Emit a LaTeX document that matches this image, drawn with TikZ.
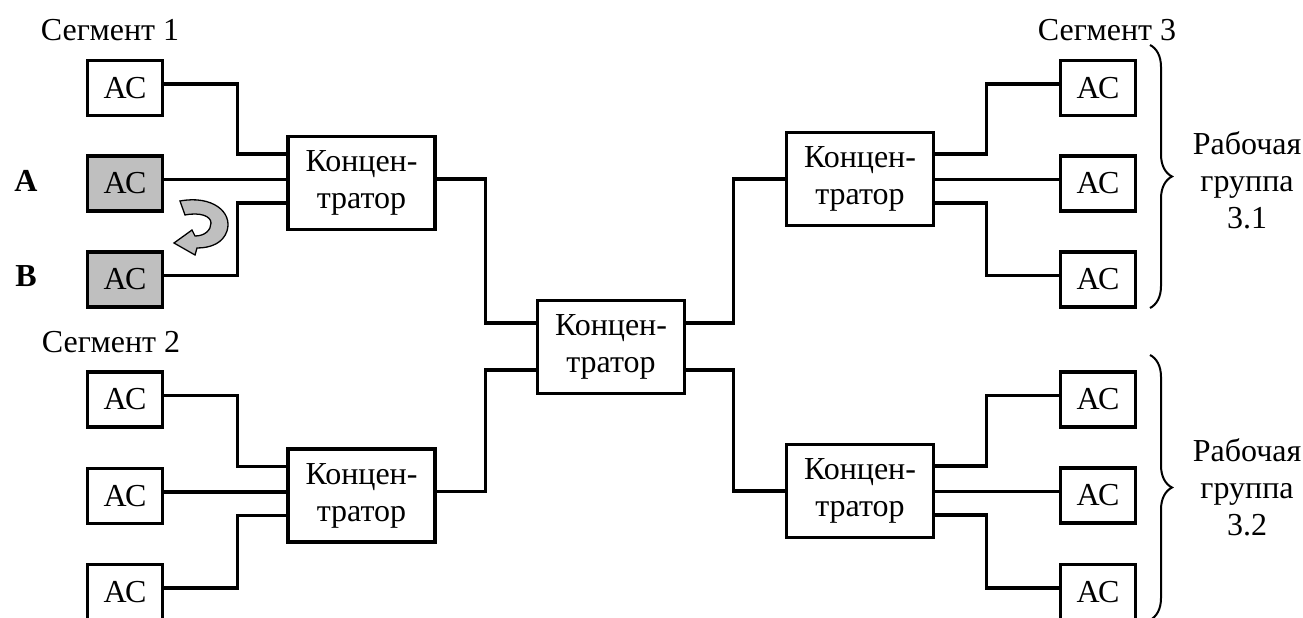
\documentclass[tikz,border=0pt]{standalone}
\usepackage{fontspec}
\setmainfont{Liberation Serif}
\usetikzlibrary{decorations.pathreplacing}
\begin{document}
\begin{tikzpicture}[x=1pt,y=-1pt,
  font=\fontsize{32}{37}\selectfont,
  ws/.style={draw,line width=3.4pt,minimum width=75pt,minimum height=55pt,inner sep=0pt},
  wsmark/.style={ws,fill=black!25},
  hub/.style={draw,line width=3.4pt,minimum width=147pt,minimum height=93pt,inner sep=0pt,align=center},
  wire/.style={line width=3.4pt},
  lbl/.style={inner sep=0pt},
  grp/.style={inner sep=0pt,align=center},
  brc/.style={line width=2pt,decorate,decoration={brace,amplitude=22pt}},
]
\useasboundingbox (0,0) rectangle (1303,618);

% segment 1
\node[lbl] (seg1) at (110,30) {Сегмент 1};
\node[ws]     (s1a) at (125,88)    {АС};
\node[wsmark] (s1b) at (125,183.5) {АС};
\node[wsmark] (s1c) at (125,279.5) {АС};
\node[lbl,font=\fontsize{32}{37}\selectfont\bfseries] (la) at (26,181) {A};
\node[lbl,font=\fontsize{32}{37}\selectfont\bfseries] (lb) at (26,276) {B};
\node[hub] (h1) at (361.5,183) {Концен-\\тратор};

% segment 2
\node[lbl] (seg2) at (111,342) {Сегмент 2};
\node[ws] (s2a) at (125,399.5) {АС};
\node[ws] (s2b) at (125,496)   {АС};
\node[ws] (s2c) at (125,592)   {АС};
\node[hub] (h2) at (361.5,495.5) {Концен-\\тратор};

% central hub
\node[hub] (hc) at (611,347) {Концен-\\тратор};

% segment 3
\node[lbl] (seg3) at (1107,30) {Сегмент 3};
\node[hub] (h3) at (860,179) {Концен-\\тратор};
\node[hub] (h4) at (860,491) {Концен-\\тратор};
\node[ws] (r1a) at (1098,88)    {АС};
\node[ws] (r1b) at (1098,183.5) {АС};
\node[ws] (r1c) at (1098,279.5) {АС};
\node[ws] (r2a) at (1098,399.5) {АС};
\node[ws] (r2b) at (1098,495.5) {АС};
\node[ws] (r2c) at (1098,592)   {АС};

% workgroups
\coordinate (b1t) at (1150,45);
\coordinate (b1b) at (1150,308);
\coordinate (b2t) at (1150,355);
\coordinate (b2b) at (1150,620);
\draw[brc] (b1t) -- (b1b);
\draw[brc] (b2t) -- (b2b);
\node[grp] (g1) at (1247,180) {Рабочая\\группа\\3.1};
\node[grp] (g2) at (1247,487) {Рабочая\\группа\\3.2};

% wiring, left side
\draw[wire] ([yshift=4pt]s1a.east) -- ++(73,0) |- ([yshift=29pt]h1.west);
\draw[wire] ([yshift=4pt]s1b.east) -- ([yshift=4pt]s1b.east -| h1.west);
\draw[wire] ([yshift=4pt]s1c.east) -- ++(73,0) |- ([yshift=-20pt]h1.west);
\draw[wire] ([yshift=4pt]s2a.east) -- ++(73,0) |- ([yshift=29pt]h2.west);
\draw[wire] ([yshift=4pt]s2b.east) -- ([yshift=4pt]s2b.east -| h2.west);
\draw[wire] ([yshift=4pt]s2c.east) -- ++(73,0) |- ([yshift=-20pt]h2.west);

% wiring, backbone
\draw[wire] ([yshift=4pt]h1.east) -- ++(49,0) |- ([yshift=24pt]hc.west);
\draw[wire] ([yshift=4pt]h2.east) -- ++(49,0) |- ([yshift=-23pt]hc.west);
\draw[wire] ([yshift=24pt]hc.east) -- ++(47,0) |- (h3.west);
\draw[wire] ([yshift=-23pt]hc.east) -- ++(47,0) |- (h4.west);

% wiring, right side
\draw[wire] ([yshift=25pt]h3.east) -- ++(51,0) |- ([yshift=4pt]r1a.west);
\draw[wire] ([yshift=4pt]r1b.west) -- ([yshift=4pt]r1b.west -| h3.east);
\draw[wire] ([yshift=-24pt]h3.east) -- ++(51,0) |- ([yshift=4pt]r1c.west);
\draw[wire] ([yshift=25pt]h4.east) -- ++(51,0) |- ([yshift=4pt]r2a.west);
\draw[wire] ([yshift=4pt]r2b.west) -- ([yshift=4pt]r2b.west -| h4.east);
\draw[wire] ([yshift=-24pt]h4.east) -- ++(51,0) |- ([yshift=4pt]r2c.west);

% swap arrow between A and B
\draw[line width=1.3pt,fill=black!25] (180,201)
  .. controls (212,195) and (233,212) .. (227,231)
  .. controls (223,243) and (211,248) .. (197,248)
  -- (195,255) -- (174,243) -- (192,230) -- (195,236)
  .. controls (205,236) and (211,230) .. (211,223)
  .. controls (211,216) and (200,212) .. (185,215) -- cycle;
\end{tikzpicture}
\end{document}
